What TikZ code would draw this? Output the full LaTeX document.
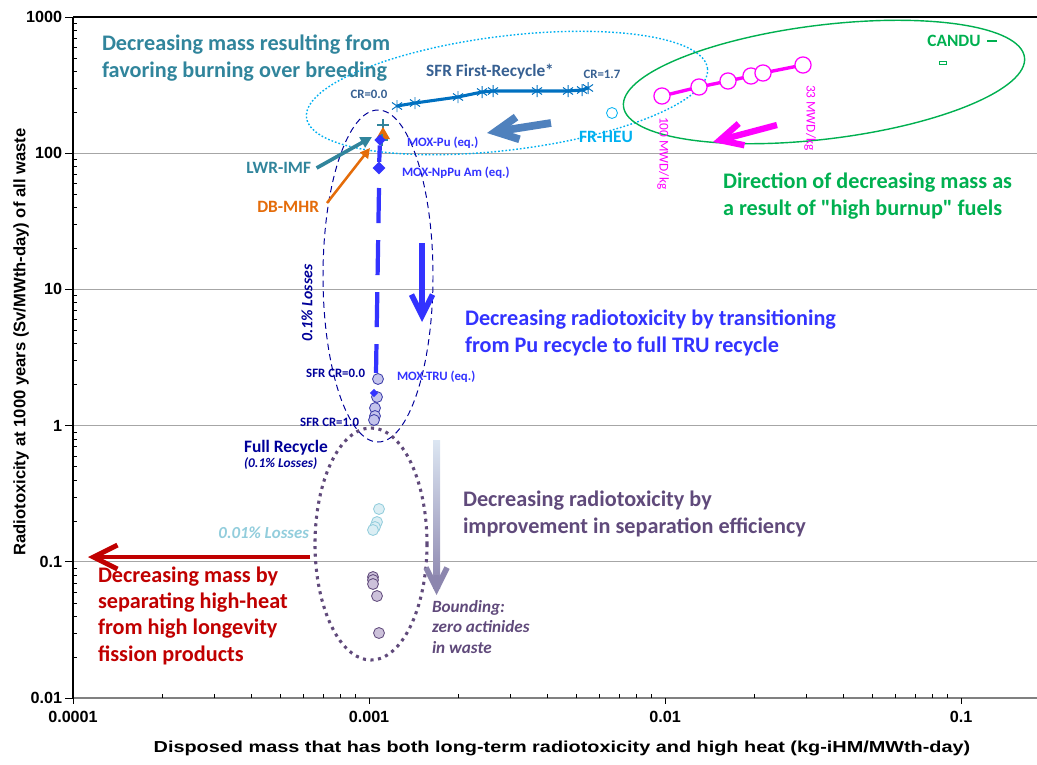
\documentclass[tikz,border=0pt]{standalone}
\usepackage{fontspec}
\setmainfont{Carlito}[Ligatures=TeXOff]
\newfontfamily\axisfont{Liberation Sans}
\newfontfamily\axiswide{Liberation Sans}[FakeStretch=1.25]
\usepackage{xcolor}
\usepackage{tikz}
\usetikzlibrary{positioning, arrows.meta, shapes.geometric}

\definecolor{tealc}{HTML}{31859C}
\definecolor{skyc}{HTML}{00B0F0}
\definecolor{sfrline}{HTML}{0070C0}
\definecolor{sfrtext}{HTML}{376092}
\definecolor{steelc}{HTML}{4F81BD}
\definecolor{greenc}{HTML}{00B050}
\definecolor{magc}{HTML}{FF00FF}
\definecolor{orangec}{HTML}{E46C0A}
\definecolor{moxc}{HTML}{3333FF}
\definecolor{navyc}{HTML}{000099}
\definecolor{trufill}{HTML}{C4C4EC}
\definecolor{truline}{HTML}{3C3CA8}
\definecolor{lossline}{HTML}{92CDDC}
\definecolor{lossfill}{HTML}{DBEEF4}
\definecolor{purplec}{HTML}{604A7B}
\definecolor{purfill}{HTML}{CCC1DA}
\definecolor{redc}{HTML}{C00000}
\definecolor{gradtop}{HTML}{DCE6F2}
\definecolor{gradbot}{HTML}{8C86AE}
\definecolor{gridc}{HTML}{A6A6A6}
\definecolor{axisc}{HTML}{808080}

\begin{document}
\begin{tikzpicture}[x=0.025cm, y=-0.025cm,
    every node/.style={inner sep=0pt, outer sep=0pt},
    gridline/.style={gridc, line width=0.6pt},
    ticklab/.style={font=\axisfont\bfseries\fontsize{11.5}{13}\selectfont},
    axtitle/.style={font=\axisfont\bfseries\fontsize{11.8}{13}\selectfont},
    note/.style={font=\bfseries\fontsize{15.8}{18.6}\selectfont, align=left, anchor=base west},
    tag/.style={font=\bfseries\fontsize{9.1}{11}\selectfont},
    series/.style={font=\bfseries\fontsize{12.3}{14}\selectfont},
    ring/.style={circle, minimum size=7.8pt, line width=0.6pt},
    mring/.style={circle, draw=magc, fill=white, line width=0.9pt, minimum size=11.5pt},
    barb/.style={-{Straight Barb[length=#1, width=#1]}},
    ast/.pic={\draw[sfrline, line width=0.7pt] (0,-6) -- (0,6) (-5,-3.5) -- (5,3.5) (-5,3.5) -- (5,-3.5);},
    plusmark/.pic={\draw[tealc, line width=0.8pt] (-6,0) -- (6,0) (0,-6) -- (0,6);}]

    \useasboundingbox (0,0) rectangle (1037,764);

    % axes and grid
    \foreach \k in {1,...,4}
        \draw[gridline] (73,{698-136.2*\k}) -- (1037,{698-136.2*\k});
    \draw[black, line width=2pt] (73,17) -- (1037,17);
    \draw[axisc, line width=2pt] (73,698) -- (1037,698);
    \draw[black, line width=0.8pt] (73,17) -- (73,698);
    \foreach \d in {0,...,4}
        \foreach \m in {2,...,9}
            \draw[black, line width=0.4pt] (73,{698-136.2*(\d+ln(\m)/ln(10))}) -- ++(4,0);
    \foreach \d in {0,1,2}
        \foreach \m in {2,...,9}
            \draw[black, line width=0.4pt] ({73+296*(\d+ln(\m)/ln(10))},698) -- ++(0,-4);
    \foreach \v [count=\k from 0] in {0.01,0.1,1,10,100,1000} {
        \draw[black, line width=0.6pt] (65,{698-136.2*\k}) -- (73,{698-136.2*\k});
        \node[ticklab, anchor=east] (ylab\k) at (62,{698-136.2*\k}) {\v};
    }
    \foreach \v [count=\k from 0] in {0.0001,0.001,0.01,0.1} {
        \draw[black, line width=0.6pt] ({73+296*\k},698) -- ++(0,6);
        \node[ticklab, anchor=north] (xlab\k) at ({73+296*\k},711) {\v};
    }
    \node[font=\axiswide\bfseries\fontsize{11.3}{13}\selectfont] (xtitle) at (562,748) {Disposed mass that has both long-term radiotoxicity and high heat (kg-iHM/MWth-day)};
    \node[axtitle, rotate=90] (ytitle) at (21,342) {Radiotoxicity at 1000 years (Sv/MWth-day) of all waste};

    % grouping ellipses
    \draw[skyc, line width=1pt, dash pattern=on 1.2pt off 1.4pt, rotate around={7:(507,93)}] (507,93) ellipse [x radius=202, y radius=57];
    \draw[greenc, line width=1pt, rotate around={7:(824,82)}] (824,82) ellipse [x radius=202, y radius=57];
    \draw[navyc, line width=0.7pt, dash pattern=on 4.5pt off 3pt] (378,276) ellipse [x radius=55, y radius=166];
    \draw[purplec, line width=2.2pt, dash pattern=on 2.2pt off 3.2pt] (371,544) ellipse [x radius=56, y radius=116];

    % SFR first recycle
    \foreach \x/\y [count=\i] in {397/106,415/103,458/97,482/92,493/91,537/91,568/91,582/90,588/88}
        \coordinate (s\i) at (\x,\y);
    \draw[sfrline, line width=2.2pt] (s1) -- (s2) -- (s3) -- (s4) -- (s5) -- (s6) -- (s7) -- (s8) -- (s9);
    \foreach \i in {1,...,9}
        \pic at (s\i) {ast};
    \node[series, sfrtext] (sfr) at (490,72) {SFR First-Recycle*};
    \node[tag, sfrtext] (cr17) at (602,74) {CR=1.7};
    \node[tag, sfrtext] (cr00) at (369,94) {CR=0.0};
    \coordinate (st1) at (551,123);
    \coordinate (st2) at (487,133);
    \draw[steelc, line width=5.5pt, barb=16pt] (st1) -- (st2);
    \node[ring, draw=skyc] (heu) at (612,113) {};
    \node[series, skyc] (heulab) at (606,137) {FR-HEU};

    % high burnup
    \foreach \x/\y [count=\i] in {662/96,699/87,728/81,751/76,763/73,803/65}
        \coordinate (m\i) at (\x,\y);
    \draw[magc, line width=2.4pt] (m1) -- (m2) -- (m3) -- (m4) -- (m5) -- (m6);
    \foreach \i in {1,...,6}
        \node[mring] (b\i) at (m\i) {};
    \node[magc, font=\fontsize{9.5}{11}\selectfont, rotate=-90, anchor=west] (mwd100) at (663,117) {100 MWD/kg};
    \node[magc, font=\fontsize{9.5}{11}\selectfont, rotate=-90, anchor=west] (mwd33) at (810,85) {33 MWD/kg};
    \coordinate (mg1) at (777,125);
    \coordinate (mg2) at (713,142);
    \draw[magc, line width=4.5pt, barb=16pt] (mg1) -- (mg2);
    \node[series, greenc] (candu) at (954,41) {CANDU};
    \node[fill=greenc, minimum width=7pt, minimum height=1.6pt] (candumark) at (992,41) {};
    \node[draw=greenc, line width=0.6pt, minimum width=5pt, minimum height=2pt] (canduopen) at (943,63) {};
    \node[note, greenc] (burnup) at (723,215) {Direction of decreasing mass as\\a result of "high burnup" fuels};
    \node[note, tealc] (burning) at (102,77) {Decreasing mass resulting from\\favoring burning over breeding};

    % LWR-IMF and DB-MHR
    \pic at (383,125) {plusmark};
    \node[regular polygon, regular polygon sides=3, fill=orangec, minimum size=11.5pt] (dbm) at (383,135) {};
    \pic at (382,140) {plusmark};
    \node[series, tealc, anchor=east] (lwr) at (311,168) {LWR-IMF};
    \coordinate (lwrtip) at (372,137);
    \draw[tealc, line width=2.6pt, -{Triangle[length=8pt, width=8pt]}] ([xshift=4pt]lwr.east) -- (lwrtip);
    \node[series, orangec, anchor=east] (dbmhr) at (319,207) {DB-MHR};
    \coordinate (dbtail) at (327,203);
    \coordinate (dbtip) at (370,148);
    \draw[orangec, line width=1.8pt, -{Triangle[length=7pt, width=7pt]}] (dbtail) -- (dbtip);

    % Pu to TRU recycle
    \node[diamond, fill=moxc, minimum size=8pt] (moxpu) at (380,140) {};
    \node[diamond, fill=moxc, minimum size=9pt] (moxnp) at (379,168) {};
    \draw[moxc, line width=3pt] (moxpu) -- (moxnp);
    \coordinate (dtop) at (379,188);
    \coordinate (dbot) at (376,373);
    \draw[moxc, line width=3pt, dash pattern=on 25pt off 12pt] (dtop) -- (dbot);
    \coordinate (tru1) at (422,243);
    \coordinate (tru2) at (422,322);
    \draw[moxc, line width=4pt, barb=15pt] (tru1) -- (tru2);
    \node[tag, moxc, anchor=west] (moxpulab) at (407,143) {MOX-Pu (eq.)};
    \node[tag, moxc, anchor=west] (moxnplab) at (402,173) {MOX-NpPu Am (eq.)};
    \node[tag, moxc, anchor=west] (moxtrulab) at (397,377) {MOX-TRU (eq.)};
    \node[navyc, rotate=90, font=\bfseries\itshape\fontsize{11.2}{13}\selectfont] (loss1) at (307,303) {0.1\% Losses};
    \node[note, moxc] (trutext) at (465,352) {Decreasing radiotoxicity by transitioning\\from Pu recycle to full TRU recycle};

    % full recycle points
    \foreach \x/\y [count=\i] in {378/379,377/397,375/408,375/416,374/420}
        \node[ring, draw=truline, fill=trufill] (t\i) at (\x,\y) {};
    \node[diamond, fill=moxc, minimum size=6pt] (moxtru) at (374,393) {};
    \node[tag, navyc, anchor=east] (sfr0) at (365,373) {SFR CR=0.0};
    \node[tag, navyc, anchor=east] (sfr1) at (359,422) {SFR CR=1.0};
    \node[navyc, font=\bfseries\fontsize{12.4}{14}\selectfont, anchor=base west] (full) at (244,452) {Full Recycle};
    \node[navyc, font=\bfseries\itshape\fontsize{9.5}{11}\selectfont, anchor=base west] (fullloss) at (244,467) {(0.1\% Losses)};

    % separation efficiency
    \foreach \x/\y [count=\i] in {379/509,377/522,375/527,373/530}
        \node[ring, draw=lossline, fill=lossfill] (c\i) at (\x,\y) {};
    \node[lossline, font=\bfseries\itshape\fontsize{12}{14}\selectfont, anchor=east] (loss01) at (309,533) {0.01\% Losses};
    \foreach \x/\y [count=\i] in {373/577,373/580,373/584,377/596,379/633}
        \node[ring, draw=purplec, fill=purfill] (p\i) at (\x,\y) {};
    \shade[top color=gradtop, bottom color=gradbot] (433,440) rectangle (440,588);
    \coordinate (gr1) at (436.5,575);
    \coordinate (gr2) at (436.5,595);
    \draw[gradbot, line width=4pt, barb=15pt] (gr1) -- (gr2);
    \node[note, purplec] (septext) at (463,533) {Decreasing radiotoxicity by\\improvement in separation efficiency};
    \node[purplec, font=\bfseries\itshape\fontsize{12.2}{14.5}\selectfont, align=left, anchor=base west] (bound) at (432,653) {Bounding:\\zero actinides\\in waste};

    % high-heat separation
    \coordinate (red1) at (310,557);
    \coordinate (red2) at (88,557);
    \draw[redc, line width=3.5pt, barb=17pt] (red1) -- (red2);
    \node[note, redc] (septfp) at (98,661) {Decreasing mass by\\separating high-heat\\from high longevity\\fission products};
\end{tikzpicture}
\end{document}
